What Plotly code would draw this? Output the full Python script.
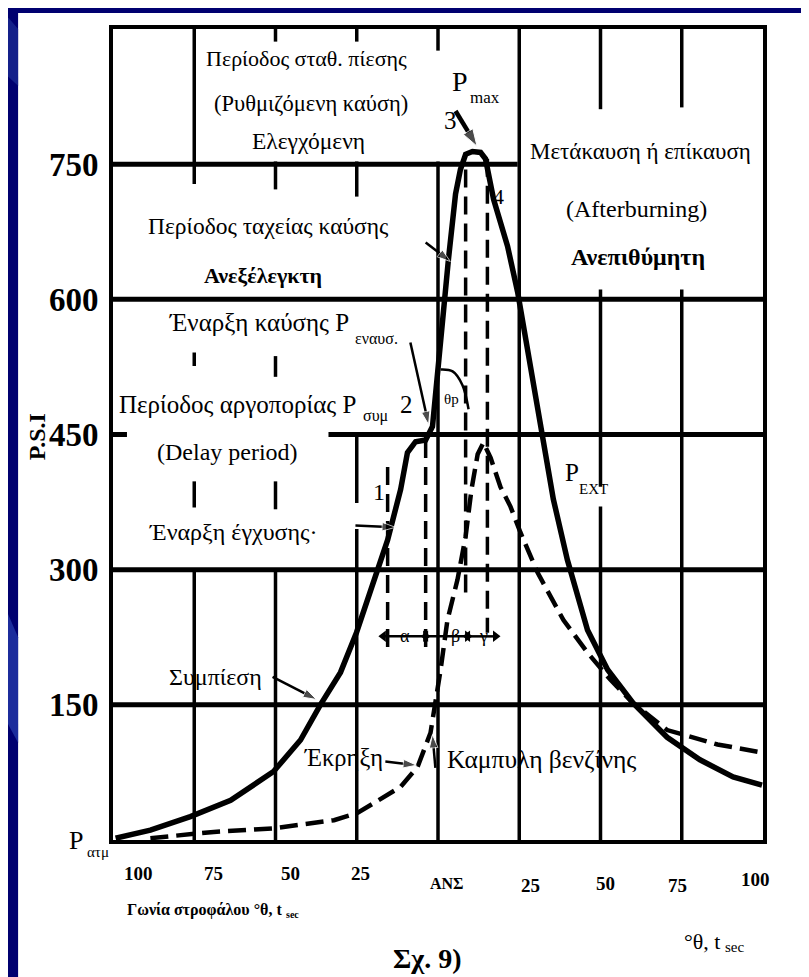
import plotly.graph_objects as go

# ---------------- data ----------------
x_range = [-100, 100]
y_range = [0, 900]
psi_ticks = [150, 300, 450, 600, 750]
psi_tick_labels = ["150", "300", "450", "600", "750"]

angle_ticks = [-100, -75, -50, -25, 0, 25, 50, 75, 100]
angle_tick_labels = ["100", "75", "50", "25", "ΑΝΣ", "25", "50", "75", "100"]
angle_label_x = [-92.3, -69.2, -45.5, -23.8, 2.9, 28.5, 51.5, 73.7, 97.7]
angle_label_y = [-37, -37, -37, -37, -48, -50, -48, -50, -44]

# diesel cycle curve (compression -> combustion -> expansion P_ext)
diesel_x = [-99.2, -88.5, -76.2, -63.8, -50.6, -42.3, -36.2, -30.0, -25.1, -20.8,
            -15.5, -11.5, -9.4, -6.9, -3.8, -1.7, 0.8, 3.2, 5.4, 6.9, 8.5, 10.6,
            13.1, 14.6, 17.1, 21.4, 24.5, 31.5, 35.5, 39.8, 46.0, 52.2, 60.0,
            70.5, 80.6, 90.8, 99.7]
diesel_y = [2, 11, 26, 44, 76, 111, 150, 186, 230, 278,
            333, 389, 430, 442, 444, 459, 556, 644, 717, 744, 761, 764,
            763, 756, 711, 659, 608, 456, 378, 311, 233, 189, 152,
            114, 89, 70, 61]

# gasoline (petrol) engine curve, dashed
gas_x = [-88.5, -69, -50.6, -32, -24.8, -18.6, -11.5, -6.3, -2.3, 0.8, 2.9, 6.0,
         8.5, 10.3, 12.2, 14.0, 16.2, 19.2, 22.3, 25.4, 30.6, 38.6, 46, 53, 60,
         70.5, 77.7, 86, 98.3]
gas_y = [2, 9, 13, 22, 30, 44, 59, 81, 119, 189, 244, 289,
         337, 389, 428, 441, 424, 392, 370, 341, 297, 244, 208, 178, 152,
         122, 114, 106, 98]

# characteristic points 1,2,3,4 and their dashed drop lines
point_x = [-15.5, -3.8, 8.5, 15.2]
point_top = [414, 444, 744, 756]
point_bottom = [214, 208, 270, 230]

# period spans α, β, γ (between the drop lines)
span_labels = ["α", "β", "γ"]
span_from = [-16.8, -3.8, 9.1]
span_to = [-3.8, 9.1, 17.7]
span_label_x = [-10.3, 5.4, 14]
span_y = 226

# theta_p arc
arc_x = [0.8, 4.5, 7.5, 9.4]
arc_y = [522, 520, 505, 478]

# pointer arrows (tail x, tail y, head x, head y, width)
pointer_arrows = [
    (-3.8, 663, 3.8, 642, 2.5),     # ταχεία καύση -> curve
    (-8.5, 552, -2.9, 461, 2.5),    # έναρξη καύσης -> point 2
    (-25.4, 349, -13.1, 347, 2.5),  # έναρξη έγχυσης -> point 1
    (-50.9, 181, -37.4, 156, 2.5),  # συμπίεση -> curve
    (-16.2, 87, -6.6, 83, 2.5),     # έκρηξη -> dashed curve
    (-0.8, 80, -1.7, 117, 2.5),     # καμπύλη βενζίνης
    (5.4, 809, 12.0, 770, 4.5),     # 3 / Pmax -> peak
]

# grid segments: horizontal (y, x0, x1)
hgrid = [(750, -100, 24.5), (600, -100, 100), (450, -33.7, 100), (450, -100, -95.7),
         (300, -100, 100), (150, -100, 100)]
# vertical (x, y0, y1)
vgrid = [(-75, 900, 728), (-75, 541, 526), (-75, 398, 369), (-75, 300, 0),
         (-50, 900, 886), (-50, 753, 722), (-50, 537, 514), (-50, 398, 367), (-50, 300, 0),
         (-25, 900, 886), (-25, 753, 714), (-25, 450, 374), (-25, 345, 0),
         (0, 900, 876), (0, 753, 0),
         (25, 900, 0),
         (50, 900, 811), (50, 611, 392), (50, 370, 0),
         (75, 900, 813), (75, 611, 0)]

NAVY = "#000070"
FONT = "Liberation Serif"

fig = go.Figure()

# vertical dashed drop lines
dx, dy = [], []
for px_, t, b in zip(point_x, point_top, point_bottom):
    dx += [px_, px_, None]
    dy += [t, b, None]
fig.add_trace(go.Scatter(x=dx, y=dy, mode="lines",
                         line=dict(color="black", width=3.5, dash="18px,9px"),
                         hoverinfo="skip", showlegend=False))

fig.add_trace(go.Scatter(x=gas_x, y=gas_y, mode="lines",
                         line=dict(color="black", width=4.5, dash="18px,8px"),
                         hoverinfo="skip", showlegend=False))
fig.add_trace(go.Scatter(x=diesel_x, y=diesel_y, mode="lines",
                         line=dict(color="black", width=5.5),
                         hoverinfo="skip", showlegend=False))
fig.add_trace(go.Scatter(x=arc_x, y=arc_y, mode="lines", line_shape="spline",
                         line=dict(color="black", width=2.5),
                         hoverinfo="skip", showlegend=False))

# pointer arrows as line + oriented arrowhead marker
for x0, y0, x1, y1, w in pointer_arrows:
    fig.add_trace(go.Scatter(x=[x0, x1], y=[y0, y1], mode="lines+markers",
                             line=dict(color="black", width=w),
                             marker=dict(symbol="arrow", size=[0, 9 + 2 * w],
                                         angleref="previous", color="black"),
                             hoverinfo="skip", showlegend=False))

# double-headed span arrows α, β, γ
for a, b in zip(span_from, span_to):
    fig.add_trace(go.Scatter(x=[a, b], y=[span_y, span_y], mode="lines+markers",
                             line=dict(color="black", width=2.5),
                             marker=dict(symbol=["triangle-left", "triangle-right"],
                                         size=10, color="black"),
                             hoverinfo="skip", showlegend=False))

shapes = []
# white page on the navy slide
shapes.append(dict(type="rect", xref="paper", yref="paper",
                   x0=-0.146, x1=1.08, y0=-0.175, y1=1.0197,
                   fillcolor="white", line=dict(width=0), layer="below"))
# lighter blue streaks on the left border
shapes.append(dict(type="path", xref="paper", yref="paper",
                   path="M -0.2 0.35 L -0.146 0.25 L -0.146 0.12 L -0.2 0.2 Z",
                   fillcolor="#1c2c9c", line=dict(width=0), layer="below"))
shapes.append(dict(type="path", xref="paper", yref="paper",
                   path="M -0.2 1.05 L -0.146 1.0 L -0.146 0.93 L -0.2 0.97 Z",
                   fillcolor="#14208a", line=dict(width=0), layer="below"))
for y, x0, x1 in hgrid:
    shapes.append(dict(type="line", xref="x", yref="y", x0=x0, x1=x1, y0=y, y1=y,
                       line=dict(color="black", width=5), layer="below"))
for x, y0, y1 in vgrid:
    shapes.append(dict(type="line", xref="x", yref="y", x0=x, x1=x, y0=y0, y1=y1,
                       line=dict(color="black", width=3.5), layer="below"))

annotations = []


def to_paper_x(x):
    return (x - x_range[0]) / (x_range[1] - x_range[0])


def to_paper_y(y):
    return (y - y_range[0]) / (y_range[1] - y_range[0])


def txt(text, x, y, size=22, xanchor="center", bold=False, paper_x=False, angle=0):
    xx = x if paper_x else to_paper_x(x)
    annotations.append(dict(text=text, x=xx, y=to_paper_y(y), xref="paper", yref="paper",
                            showarrow=False, xanchor=xanchor, yanchor="middle",
                            textangle=angle,
                            font=dict(family=FONT, size=size, color="black",
                                      weight="bold" if bold else "normal")))


txt("Περίοδος σταθ. πίεσης", -40.5, 867, 22)
txt("(Ρυθμιζόμενη καύση)", -39.2, 817, 22.5)
txt("Ελεγχόμενη", -39.8, 776, 23.5)
txt("Περίοδος ταχείας καύσης", -52.2, 681, 23.5)
txt("Ανεξέλεγκτη", -54, 627, 22, bold=True)
txt("Έναρξη καύσης P", -26.9, 574, 25, xanchor="right")
txt("εναυσ.", -26.3, 556, 16, xanchor="left")
txt("Περίοδος αργοπορίας P", -24.5, 483, 25, xanchor="right")
txt("συμ", -23.8, 470, 16, xanchor="left")
txt("2", -9.7, 483, 25)
txt("θp", 4.2, 489, 15)
txt("(Delay period)", -64.8, 431, 24)
txt("Έναρξη έγχυσης·", -89.4, 342, 24, xanchor="left")
txt("1", -18.3, 386, 24)
txt("P", 3.8, 842, 28, xanchor="left")
txt("max", 9.1, 824, 17, xanchor="left")
txt("3", 3.8, 798, 25)
txt("4", 18.6, 714, 22)
txt("Μετάκαυση ή επίκαυση", 62.3, 764, 23)
txt("(Afterburning)", 61.1, 700, 24)
txt("Ανεπιθύμητη", 61.4, 647, 24, bold=True)
txt("P", 38.6, 408, 25, xanchor="left")
txt("EXT", 42.9, 389, 15, xanchor="left")
txt("Συμπίεση", -68.5, 181, 24)
txt("Έκρηξη", -29.1, 92, 24.5)
txt("Καμπυλη βενζίνης", 31.8, 89, 25.5)
txt("P", -114.3, 0, 26, xanchor="left")
txt("ατμ", -108.5, -13, 15, xanchor="left")
for lab, lx in zip(span_labels, span_label_x):
    txt(lab, lx, span_y, 18)
for lab, lx, ly in zip(angle_tick_labels, angle_label_x, angle_label_y):
    txt(lab, lx, ly, 16 if lab == "ΑΝΣ" else 19, bold=True)
txt("Γωνία στροφάλου °θ, t", -47.5, -78, 16, bold=True, xanchor="right")
txt("sec", -47.3, -83, 10, bold=True, xanchor="left")
txt("°θ, t", 87.5, -113, 22, xanchor="right")
txt("sec", 87.7, -119, 15, xanchor="left")
txt("Σχ. 9)", -3.2, -131, 28, bold=True)
txt("P.S.I", -0.117, 448, 24, bold=True, paper_x=True, angle=-90)

# the page body adds an 8 px offset; the figure is sized to fill the window
fig.update_layout(
    width=801, height=969,
    margin=dict(l=105, r=46, t=21, b=137),
    paper_bgcolor=NAVY, plot_bgcolor="white",
    shapes=shapes, annotations=annotations,
    xaxis=dict(range=x_range, showgrid=False, zeroline=False, showticklabels=False,
               ticks="", showline=True, mirror=True, linecolor="black", linewidth=4),
    yaxis=dict(range=y_range, showgrid=False, zeroline=False,
               tickvals=psi_ticks, ticktext=psi_tick_labels,
               tickfont=dict(family=FONT, size=33, color="black", weight="bold"),
               ticks="", ticklabelstandoff=4,
               showline=True, mirror=True, linecolor="black", linewidth=4),
    showlegend=False,
)

fig.write_html("out.html")
